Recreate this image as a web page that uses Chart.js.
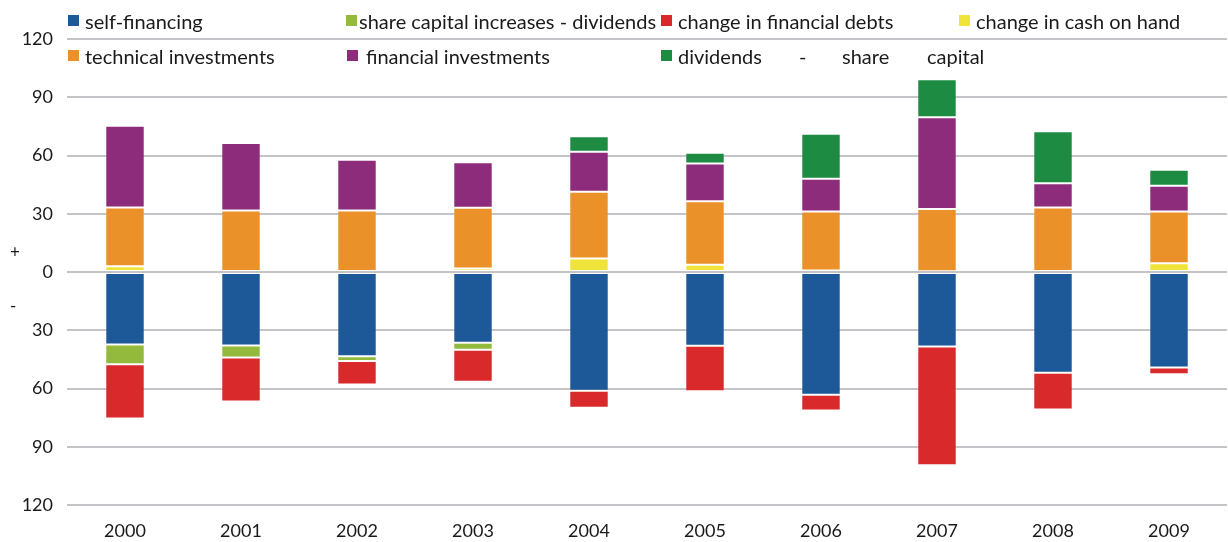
<!DOCTYPE html>
<html>
<head>
<meta charset="utf-8">
<script src="https://cdn.jsdelivr.net/npm/chart.js@4"></script>
<style>
  html, body { margin: 0; padding: 0; background: #fff; }
  #wrap { position: relative; width: 1228px; height: 542px; font-family: Lato, sans-serif; color: #1a1a1a; }
  #wrap canvas { position: absolute; left: 0; top: 0; }
  .leg { position: absolute; font-size: 20px; line-height: 20px; white-space: nowrap; }
  .sw { position: absolute; width: 11px; height: 11px; }
  .sign { position: absolute; font-size: 17px; }
</style>
</head>
<body>
<div id="wrap">
  <canvas id="chart" width="1228" height="542"></canvas>
</div>
<script>
// years
const years = ['2000','2001','2002','2003','2004','2005','2006','2007','2008','2009'];

// sources (drawn below zero)
const selfFinancing   = [-37.3, -37.8, -43.4, -36.5, -61.2, -38.0, -63.2, -38.4, -51.9, -49.2];
const shareCapIncr    = [-10.2,  -6.2,  -2.5,  -3.6,   0,     0,     0,     0,     0,     0];
const finDebts        = [-27.9, -22.7, -12.0, -16.4,  -8.7, -23.4,  -8.1, -61.1, -18.9,  -3.4];

// uses (drawn above zero)
const cashOnHand      = [3.0, 0,    0,    1.8,  7.0,  3.7,  0.8,  0.4,  0,    4.5];
const technicalInv    = [30.2, 31.7, 31.7, 31.3, 34.3, 32.8, 30.4, 32.1, 33.2, 26.7];
const financialInv    = [42.1, 34.8, 26.1, 23.4, 20.6, 19.4, 16.8, 47.2, 12.5, 13.2];
const dividendsShare  = [0,    0,    0,    0,    8.0,  5.5,  23.2, 19.6, 26.8, 8.2];

const yTicks = [-120, -90, -60, -30, 0, 30, 60, 90, 120];

const series = [
  { label: 'self-financing',                      data: selfFinancing,  color: '#1d5899', sx: 68,  tx: 85,  row: 0 },
  { label: 'share capital increases - dividends', data: shareCapIncr,   color: '#93ba3c', sx: 346, tx: 359, row: 0 },
  { label: 'change in financial debts',           data: finDebts,       color: '#d9292b', sx: 661, tx: 678, row: 0 },
  { label: 'change in cash on hand',              data: cashOnHand,     color: '#f0e33a', sx: 959, tx: 976, row: 0 },
  { label: 'technical investments',               data: technicalInv,   color: '#eb912a', sx: 68,  tx: 85,  row: 1 },
  { label: 'financial investments',               data: financialInv,   color: '#8e2c7c', sx: 347, tx: 366, row: 1 },
  { label: 'dividends - share capital',           data: dividendsShare, color: '#1e8b43', sx: 661, tx: 678, row: 1 }
];

// HTML legend (two loose rows, like the original)
const wrap = document.getElementById('wrap');
const rowY = [15, 50];
series.forEach(s => {
  const sw = document.createElement('div');
  sw.className = 'sw';
  sw.style.left = s.sx + 'px';
  sw.style.top = rowY[s.row] + 'px';
  sw.style.background = s.color;
  wrap.appendChild(sw);
  if (s.label === 'dividends - share capital') {
    // justified text in the original
    [['dividends', 678], ['-', 799], ['share', 842], ['capital', 927]].forEach(([t, x]) => {
      const el = document.createElement('div');
      el.className = 'leg';
      el.textContent = t;
      el.style.left = x + 'px';
      el.style.top = (rowY[s.row] - 4) + 'px';
      wrap.appendChild(el);
    });
  } else {
    const el = document.createElement('div');
    el.className = 'leg';
    el.textContent = s.label;
    el.style.left = s.tx + 'px';
    el.style.top = (rowY[s.row] - 4) + 'px';
    wrap.appendChild(el);
  }
});

[['+', 241], ['-', 295]].forEach(([t, y]) => {
  const el = document.createElement('div');
  el.className = 'sign';
  el.textContent = t;
  el.style.left = '10px';
  el.style.top = y + 'px';
  wrap.appendChild(el);
});

new Chart(document.getElementById('chart'), {
  type: 'bar',
  data: {
    labels: years,
    datasets: series.map(s => ({
      label: s.label,
      data: s.data,
      backgroundColor: s.color,
      borderColor: 'rgba(255,255,255,0.2)',
      borderWidth: 1,
      borderSkipped: false,
      categoryPercentage: 1,
      barPercentage: 0.34
    }))
  },
  options: {
    responsive: false,
    animation: false,
    layout: { padding: { top: 39, right: 1, left: 0, bottom: 0 } },
    plugins: { legend: { display: false }, tooltip: { enabled: false } },
    scales: {
      x: {
        stacked: true,
        grid: { display: false, drawTicks: false },
        border: { display: false },
        ticks: { padding: 15, color: '#1a1a1a', font: { size: 18, family: 'Lato' } },
        afterFit: s => { s.height = 37; }
      },
      y: {
        stacked: true,
        min: -120,
        max: 120,
        afterBuildTicks: s => { s.ticks = yTicks.map(v => ({ value: v })); },
        grid: { color: '#c3c3c8', lineWidth: 2, drawTicks: false },
        border: { display: false },
        ticks: {
          padding: 14,
          color: '#1a1a1a',
          font: { size: 18, family: 'Lato' },
          callback: v => Math.abs(v)
        },
        afterFit: s => { s.width = 67; }
      }
    }
  }
});
</script>
</body>
</html>
